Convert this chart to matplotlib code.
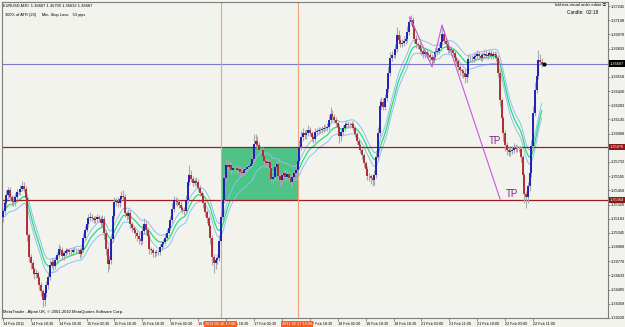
import matplotlib
matplotlib.use("Agg")
import matplotlib.pyplot as plt
from matplotlib.patches import Rectangle
from matplotlib.transforms import blended_transform_factory
import numpy as np

plt.rcParams['font.family'] = ['Liberation Sans', 'DejaVu Sans', 'Noto Sans CJK JP']

# EURUSD M30 closes, in pips (1 pip = 0.0001)
close_pips = [
    13526, 13533, 13541, 13546, 13539, 13535, 13534, 13539, 13544, 13544,
    13547, 13550, 13547, 13538, 13502, 13481, 13475, 13469, 13465, 13466,
    13461, 13454, 13448, 13439, 13446, 13454, 13462, 13473, 13476, 13472,
    13478, 13483, 13489, 13488, 13482, 13485, 13487, 13488, 13486, 13486,
    13488, 13488, 13488, 13488, 13484, 13488, 13500, 13507, 13513, 13519,
    13520, 13519, 13517, 13518, 13520, 13518, 13514, 13518, 13504, 13489,
    13474, 13478, 13499, 13521, 13534, 13535, 13533, 13537, 13540, 13539,
    13524, 13521, 13524, 13513, 13509, 13507, 13504, 13501, 13499, 13497,
    13506, 13513, 13507, 13501, 13489, 13488, 13485, 13485, 13486, 13486,
    13491, 13494, 13496, 13500, 13504, 13509, 13517, 13528, 13536, 13535,
    13534, 13532, 13529, 13527, 13526, 13536, 13554, 13561, 13557, 13553,
    13555, 13554, 13548, 13543, 13540, 13533, 13525, 13519, 13511, 13500,
    13481, 13475, 13478, 13480, 13497, 13520, 13536, 13558, 13570, 13568,
    13570, 13565, 13567, 13567, 13565, 13566, 13564, 13563, 13565, 13566,
    13568, 13569, 13571, 13576, 13591, 13594, 13590, 13585, 13585, 13579,
    13574, 13572, 13573, 13567, 13557, 13559, 13568, 13571, 13560, 13556,
    13561, 13563, 13559, 13562, 13558, 13554, 13559, 13563, 13565, 13574,
    13588, 13597, 13601, 13599, 13601, 13604, 13601, 13597, 13596, 13602,
    13603, 13604, 13604, 13605, 13606, 13606, 13607, 13614, 13620, 13617,
    13614, 13611, 13607, 13598, 13602, 13606, 13609, 13610, 13609, 13609,
    13610, 13606, 13600, 13594, 13590, 13585, 13580, 13572, 13566, 13560,
    13560, 13558, 13556, 13561, 13578, 13601, 13628, 13631, 13627, 13635,
    13644, 13660, 13674, 13677, 13677, 13683, 13696, 13692, 13688, 13689,
    13691, 13693, 13699, 13709, 13711, 13704, 13693, 13688, 13687, 13683,
    13681, 13678, 13680, 13678, 13677, 13675, 13672, 13675, 13680, 13681,
    13684, 13690, 13697, 13691, 13688, 13682, 13683, 13682, 13679, 13674,
    13671, 13665, 13662, 13661, 13660, 13656, 13659, 13673, 13673, 13673,
    13675, 13676, 13678, 13676, 13674, 13677, 13678, 13676, 13677, 13679,
    13676, 13678, 13677, 13674, 13660, 13633, 13616, 13601, 13590, 13585,
    13583, 13584, 13585, 13587, 13586, 13586, 13586, 13578, 13561, 13542,
    13539, 13550, 13563, 13589, 13621, 13643, 13657, 13672, 13670, 13668.7,
]
first_open_pips = 13520

# shadow lengths above / below the body, in pips
wick_up = [
    3, 4, 5, 3, 3, 2, 3, 4, 3, 3,  4, 5, 4, 3, 3, 2, 3, 2, 2, 3,
    2, 2, 3, 2, 3, 4, 4, 5, 4, 3,  3, 3, 5, 3, 3, 2, 3, 2, 2, 3,
    2, 3, 2, 2, 2, 3, 4, 4, 3, 4,  5, 3, 2, 3, 3, 2, 3, 4, 3, 2,
    3, 4, 4, 5, 5, 3, 4, 3, 5, 6,  3, 2, 4, 3, 2, 2, 3, 2, 3, 3,
    5, 6, 3, 2, 3, 2, 2, 2, 3, 2,  3, 3, 3, 3, 4, 4, 4, 5, 4, 3,
    3, 2, 3, 2, 3, 5, 8, 9, 4, 3,  3, 4, 3, 3, 2, 3, 2, 2, 2, 2,
    2, 3, 3, 4, 5, 6, 6, 5, 6, 5,  3, 3, 3, 3, 2, 3, 3, 2, 3, 3,
    3, 3, 4, 6, 9, 6, 4, 3, 3, 3,  3, 2, 3, 2, 2, 3, 3, 3, 2, 3,
    3, 3, 3, 3, 2, 3, 3, 3, 4, 6,  7, 6, 5, 3, 4, 5, 3, 2, 2, 4,
    3, 3, 3, 3, 4, 3, 4, 5, 7, 4,  3, 3, 2, 3, 3, 3, 3, 3, 3, 3,
    3, 2, 2, 2, 2, 2, 2, 2, 2, 3,  3, 2, 3, 4, 5, 6, 6, 5, 4, 4,
    5, 6, 6, 4, 4, 5, 8, 5, 4, 4,  4, 4, 6, 6, 5, 3, 2, 3, 2, 3,
    3, 2, 3, 3, 2, 3, 3, 3, 4, 3,  4, 5, 7, 4, 3, 3, 3, 3, 2, 2,
    2, 2, 2, 2, 2, 3, 6, 5, 4, 4,  3, 4, 4, 3, 3, 3, 4, 4, 3, 3,
    3, 3, 3, 3, 3, 2, 2, 2, 3, 3,  3, 4, 4, 5, 4, 4, 3, 3, 2, 2,
    3, 4, 5, 6, 7, 8, 9, 10, 6, 4,
]
wick_dn = [
    5, 3, 3, 3, 4, 4, 3, 3, 3, 3,  3, 2, 3, 4, 5, 5, 6, 4, 5, 4,
    4, 5, 5, 6, 5, 4, 4, 3, 3, 4,  3, 3, 3, 4, 4, 4, 3, 3, 3, 3,
    3, 2, 3, 3, 4, 3, 3, 2, 2, 3,  3, 3, 3, 3, 3, 3, 4, 4, 5, 6,
    7, 5, 4, 3, 3, 3, 3, 3, 3, 3,  4, 4, 3, 4, 4, 3, 4, 4, 5, 4,
    3, 3, 4, 5, 5, 4, 4, 4, 3, 3,  3, 3, 3, 2, 2, 2, 2, 3, 3, 3,
    3, 3, 3, 3, 4, 3, 3, 3, 3, 3,  3, 3, 3, 3, 3, 4, 4, 5, 5, 6,
    8, 9, 6, 4, 3, 3, 3, 3, 3, 3,  3, 3, 3, 3, 3, 3, 3, 3, 3, 3,
    2, 2, 2, 2, 3, 3, 3, 3, 3, 4,  4, 4, 4, 4, 5, 6, 4, 3, 5, 6,
    4, 3, 4, 4, 4, 5, 4, 3, 3, 3,  3, 3, 3, 3, 3, 3, 3, 3, 4, 3,
    3, 3, 3, 3, 3, 3, 3, 3, 3, 3,  3, 3, 4, 6, 4, 3, 3, 3, 3, 3,
    3, 3, 3, 3, 3, 3, 4, 4, 4, 4,  5, 6, 6, 5, 3, 3, 3, 3, 3, 3,
    3, 3, 3, 3, 3, 3, 3, 3, 3, 3,  3, 3, 3, 3, 3, 3, 4, 4, 4, 4,
    4, 4, 4, 4, 4, 4, 5, 3, 3, 3,  3, 3, 3, 3, 3, 3, 3, 3, 3, 4,
    4, 4, 4, 5, 5, 6, 5, 3, 3, 3,  3, 3, 3, 3, 3, 3, 3, 3, 3, 3,
    3, 3, 3, 3, 4, 5, 6, 7, 6, 5,  4, 4, 3, 3, 3, 3, 3, 5, 7, 9,
    10, 6, 5, 4, 4, 3, 3, 3, 3, 3,
]

# axis labels
tick_bars = list(range(0, 305, 16))
tick_labels = ["14 Feb 2011", "14 Feb 10:30", "14 Feb 18:30", "15 Feb 02:30",
               "15 Feb 10:30", "15 Feb 18:30", "16 Feb 02:30", "16 Feb 10:30",
               "16 Feb 18:30", "17 Feb 02:30", "17 Feb 10:30", "17 Feb 18:30",
               "18 Feb 02:30", "18 Feb 10:30", "18 Feb 18:30", "21 Feb 03:00",
               "21 Feb 11:00", "21 Feb 19:00", "22 Feb 03:00", "22 Feb 11:00"]
price_ticks = [1.37245, 1.37108, 1.36970, 1.36833, 1.36695, 1.36558, 1.36420,
               1.36283, 1.36145, 1.36008, 1.35870, 1.35733, 1.35595, 1.35458,
               1.35320, 1.35183, 1.35045, 1.34908, 1.34770, 1.34633, 1.34495,
               1.34358, 1.34220]

# objects on the chart
bid_price = 1.36687
level_hi = 1.35878
level_lo = 1.35364
vline_bars = [125, 169]
vline_texts = ["2011.02.16 17:00", "2011.02.17 15:00"]
zigzag_bars = [233.4, 246.1, 251.8, 285.1]
zigzag_prices = [1.37138, 1.36653, 1.37061, 1.35373]
tp_bars = [278.7, 288.5]
tp_prices = [1.35890, 1.35376]

close = np.array(close_pips) / 10000.0
open_ = np.concatenate([[first_open_pips / 10000.0], close[:-1]])
high = np.maximum(open_, close) + np.array(wick_up) / 10000.0
low = np.minimum(open_, close) - np.array(wick_dn) / 10000.0
x = np.arange(len(close))


def ema(values, period):
    out = np.empty_like(values)
    k = 2.0 / (period + 1)
    out[0] = values[0]
    for i in range(1, len(values)):
        out[i] = values[i] * k + out[i - 1] * (1 - k)
    return out


ma = ema(close, 15)

bg = '#f3f3ee'
fig = plt.figure(figsize=(6.25, 3.27), dpi=100, facecolor=bg)
ax = fig.add_axes([2 / 625, 1 - 318 / 327, 606 / 625, 316 / 327], facecolor=bg)

ax.set_xlim(-0.5, 347)
ax.set_ylim(1.342194, 1.372840)

# green zone between the two levels
ax.add_patch(Rectangle((vline_bars[0], level_lo), vline_bars[1] - vline_bars[0],
                       level_hi - level_lo, facecolor='#4fc387', edgecolor='none', zorder=1))

# moving average + envelopes
ax.plot(x, ma * 1.0005, color='#8cc0f0', lw=0.7, zorder=2)
ax.plot(x, ma * 0.9995, color='#8cc0f0', lw=0.7, zorder=2)
ax.plot(x, ma, color='#22e07a', lw=0.9, zorder=2)

# candles
up = close >= open_
ax.vlines(x, low, high, color='#a9a9a9', lw=0.8, zorder=3)
ax.vlines(x[up], open_[up], close[up], color='#1414b4', lw=1.3, zorder=4)
ax.vlines(x[~up], close[~up], open_[~up], color='#b0222a', lw=1.3, zorder=4)

# lines
ax.axhline(bid_price, color='#7a7ad2', lw=0.8, zorder=2.5)
ax.axhline(level_hi, color='#9e1c1c', lw=0.9, zorder=2.5)
ax.axhline(level_lo, color='#9e1c1c', lw=0.9, zorder=2.5)
for b in vline_bars:
    ax.axvline(b, color='#f2a27a', lw=0.8, zorder=2.5)
ax.plot(zigzag_bars, zigzag_prices, color='#c45ad8', lw=0.8, zorder=5)
for b, p in zip(tp_bars, tp_prices):
    ax.text(b, p, "TP", color='#7e2288', fontsize=7, ha='left', va='bottom', zorder=6)
ax.plot([len(close) + 0.5], [close[-1]], 'o', color='black', ms=2, zorder=6)

# axes look
for s in ax.spines.values():
    s.set_color('#7c7c7c')
    s.set_linewidth(0.8)
ax.yaxis.tick_right()
ax.set_yticks(price_ticks)
ax.set_yticklabels(["%.5f" % p for p in price_ticks])
ax.set_xticks(tick_bars)
ax.set_xticklabels(tick_labels, ha='left')
ax.tick_params(axis='x', labelsize=2.7, length=2, width=0.5, pad=1.2, color='#606060')
ax.tick_params(axis='y', labelsize=2.8, length=1.5, width=0.5, pad=0.6, color='#606060')

# price labels on the right scale
tr = blended_transform_factory(ax.transAxes, ax.transData)
for p, fc in [(bid_price, 'black'), (level_hi, '#8e1616'), (level_lo, '#8e1616')]:
    ax.text(1.003, p, "%.5f" % p, transform=tr, fontsize=2.8, color='white',
            ha='left', va='center', clip_on=False, zorder=7,
            bbox=dict(boxstyle='square,pad=0.3', fc=fc, ec='none'))

# time labels for the vertical lines
trx = blended_transform_factory(ax.transData, ax.transAxes)
for b, t in zip(vline_bars, vline_texts):
    ax.text(b - 9, -0.012, t, transform=trx, fontsize=2.8, color='white',
            ha='left', va='top', clip_on=False, zorder=7,
            bbox=dict(boxstyle='square,pad=0.3', fc='#ff5a1a', ec='none'))

# chart texts
fig.text(3 / 625, 1 - 6 / 327, "EURUSD,M30  1.36687 1.36700 1.36632 1.36687",
         fontsize=2.9, va='center', ha='left')
fig.text(5 / 625, 1 - 15 / 327, "300% of ATR (20)     Min. Stop Loss:   53 pips",
         fontsize=2.9, va='center', ha='left')
fig.text(606 / 625, 1 - 5 / 327, "fukhera visual order editor \u24d8",
         fontsize=2.9, va='center', ha='right')
fig.text(598 / 625, 1 - 12 / 327, "Candle:  02:18", fontsize=3.4, va='center', ha='right')
fig.text(3 / 625, 1 - 312 / 327, "MetaTrader - Alpari UK, \u00a9 2001-2010 MetaQuotes Software Corp.",
         fontsize=3.0, va='center', ha='left')

fig.savefig("out.png", dpi=100, facecolor=bg)
